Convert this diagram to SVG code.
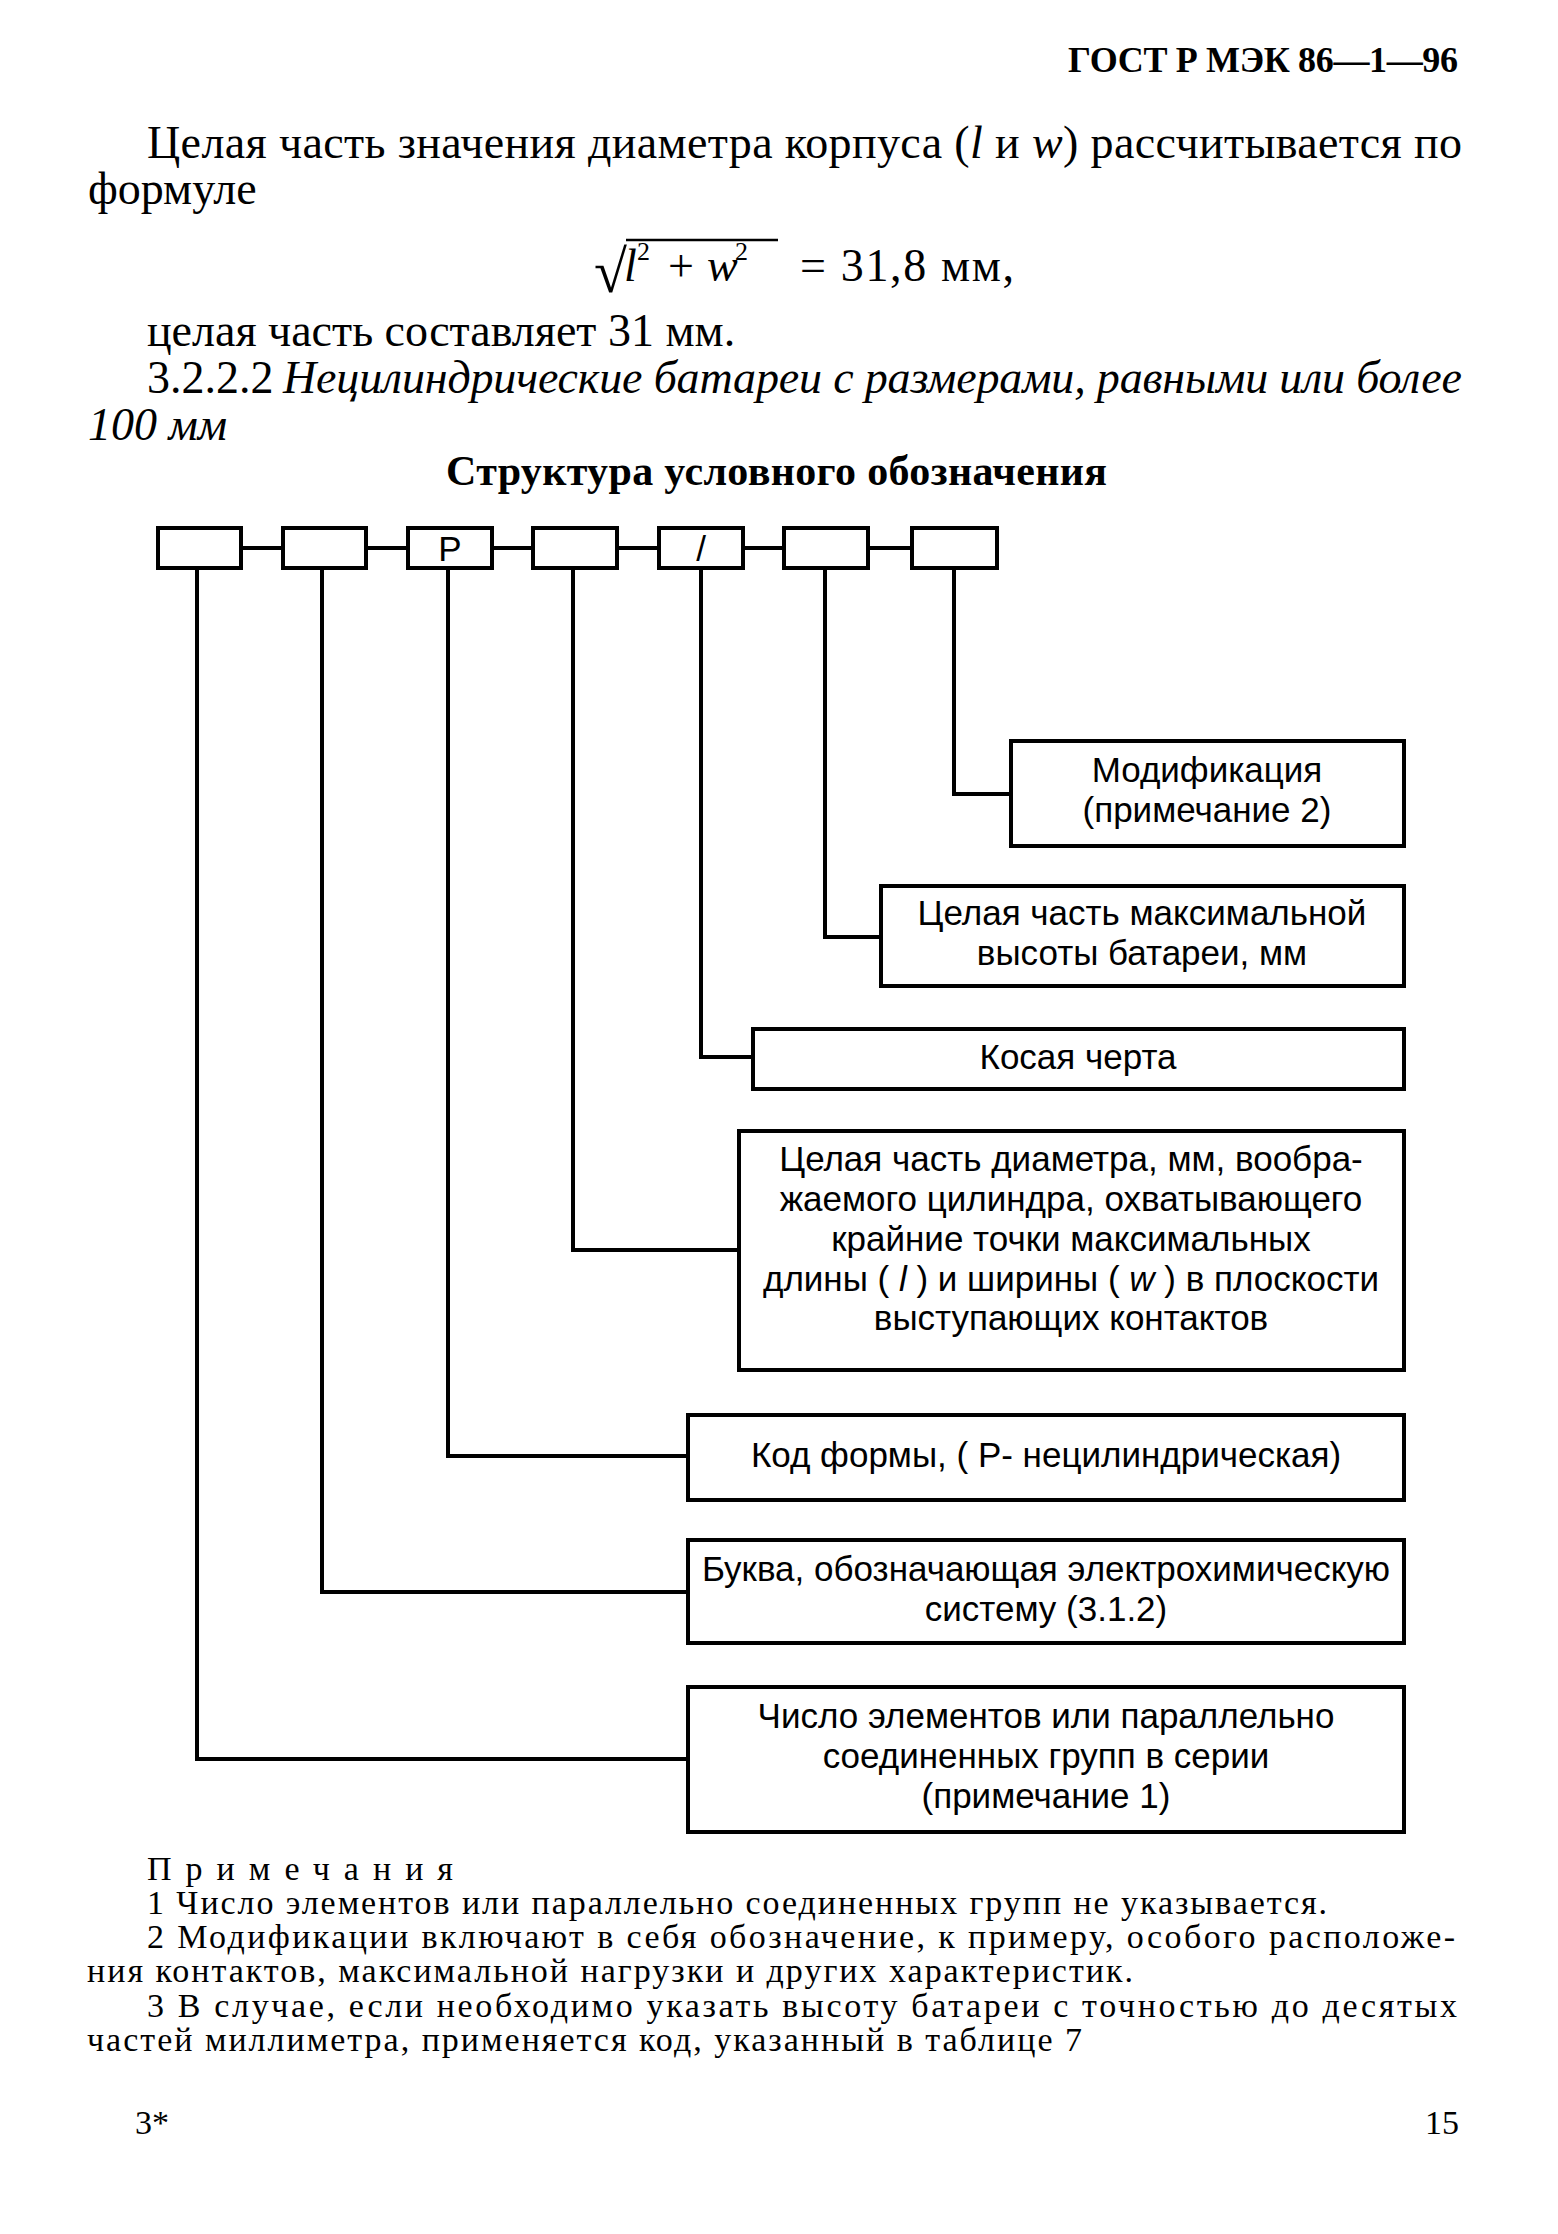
<svg xmlns="http://www.w3.org/2000/svg" width="1558" height="2234" viewBox="0 0 1558 2234">
<style>
.serif{font-family:"Liberation Serif","Times New Roman",serif;fill:#000}
.body{font-size:46px}
.note{font-size:34px}
.sans{font-family:"Liberation Sans",Arial,sans-serif;font-size:35px;fill:#000;text-anchor:middle}
.box{fill:#fff;stroke:#000;stroke-width:4}
.conn{fill:none;stroke:#000;stroke-width:4}
.it{font-style:italic}
</style>
<rect width="1558" height="2234" fill="#fff"/>
<g id="page-text">
<text class="serif" x="1068" y="72" font-size="36" font-weight="bold" textLength="390">ГОСТ Р МЭК 86—1—96</text>
<text class="serif body" x="147" y="158" textLength="1315">Целая часть значения диаметра корпуса (<tspan class="it">l</tspan> и <tspan class="it">w</tspan>) рассчитывается по</text>
<text class="serif body" x="88" y="204">формуле</text>
<g id="formula">
<text class="serif" x="594" y="292" font-size="60" font-family="DejaVu Serif">√</text>
<line x1="626" y1="240" x2="778" y2="240" stroke="#000" stroke-width="2.5"/>
<text class="serif body it" x="624" y="281">l</text>
<text class="serif" x="637" y="260" font-size="26">2</text>
<text class="serif body" x="668" y="281">+</text>
<text class="serif body it" x="707" y="281">w</text>
<text class="serif" x="735" y="260" font-size="26">2</text>
<text class="serif body" x="800" y="281" textLength="214">= 31,8 мм,</text>
</g>
<text class="serif body" x="147" y="346">целая часть составляет 31 мм.</text>
<text class="serif body" x="147" y="393">3.2.2.2</text>
<text class="serif body it" x="283" y="393" textLength="1179">Нецилиндрические батареи с размерами, равными или более</text>
<text class="serif body it" x="88" y="440" font-size="44">100 мм</text>
<text class="serif" x="446" y="485" font-size="42" font-weight="bold" textLength="661">Структура условного обозначения</text>
</g>
<g id="connectors">
<line class="conn" x1="240" y1="548" x2="912" y2="548"/>
<polyline class="conn" points="954,568 954,794 1011,794"/>
<polyline class="conn" points="825,568 825,937 881,937"/>
<polyline class="conn" points="701,568 701,1057 753,1057"/>
<polyline class="conn" points="573,568 573,1250 739,1250"/>
<polyline class="conn" points="448,568 448,1456 688,1456"/>
<polyline class="conn" points="322,568 322,1592 688,1592"/>
<polyline class="conn" points="197,568 197,1759 688,1759"/>
</g>
<g id="code-boxes">
<g id="c1"><rect class="box" x="158" y="528" width="83" height="40"/></g>
<g id="c2"><rect class="box" x="283" y="528" width="83" height="40"/></g>
<g id="c3"><rect class="box" x="408" y="528" width="84" height="40"/><text class="sans" x="450" y="561" font-size="31">P</text></g>
<g id="c4"><rect class="box" x="533" y="528" width="84" height="40"/></g>
<g id="c5"><rect class="box" x="659" y="528" width="84" height="40"/><text class="sans" x="701" y="561" font-size="32">/</text></g>
<g id="c6"><rect class="box" x="784" y="528" width="84" height="40"/></g>
<g id="c7"><rect class="box" x="912" y="528" width="85" height="40"/></g>
</g>
<g id="n-mod"><rect class="box" x="1011" y="741" width="393" height="105"/>
<text class="sans" x="1207" y="782">Модификация</text>
<text class="sans" x="1207" y="822">(примечание 2)</text></g>
<g id="n-height"><rect class="box" x="881" y="886" width="523" height="100"/>
<text class="sans" x="1142" y="925">Целая часть максимальной</text>
<text class="sans" x="1142" y="965">высоты батареи, мм</text></g>
<g id="n-slash"><rect class="box" x="753" y="1029" width="651" height="60"/>
<text class="sans" x="1078" y="1069">Косая черта</text></g>
<g id="n-diam"><rect class="box" x="739" y="1131" width="665" height="239"/>
<text class="sans" x="1071" y="1171">Целая часть диаметра, мм, вообра-</text>
<text class="sans" x="1071" y="1211">жаемого цилиндра, охватывающего</text>
<text class="sans" x="1071" y="1251">крайние точки максимальных</text>
<text class="sans" x="1071" y="1291">длины ( <tspan class="it">l</tspan> ) и ширины ( <tspan class="it">w</tspan> ) в плоскости</text>
<text class="sans" x="1071" y="1330">выступающих контактов</text></g>
<g id="n-shape"><rect class="box" x="688" y="1415" width="716" height="85"/>
<text class="sans" x="1046" y="1467">Код формы, ( P- нецилиндрическая)</text></g>
<g id="n-letter"><rect class="box" x="688" y="1540" width="716" height="103"/>
<text class="sans" x="1046" y="1581">Буква, обозначающая электрохимическую</text>
<text class="sans" x="1046" y="1621">систему (3.1.2)</text></g>
<g id="n-count"><rect class="box" x="688" y="1687" width="716" height="145"/>
<text class="sans" x="1046" y="1728">Число элементов или параллельно</text>
<text class="sans" x="1046" y="1768">соединенных групп в серии</text>
<text class="sans" x="1046" y="1808">(примечание 1)</text></g>
<g id="notes">
<text class="serif note" x="147" y="1880" textLength="306">Примечания</text>
<text class="serif note" x="147" y="1914" textLength="1180">1 Число элементов или параллельно соединенных групп не указывается.</text>
<text class="serif note" x="147" y="1948" textLength="1308">2 Модификации включают в себя обозначение, к примеру, особого расположе-</text>
<text class="serif note" x="87" y="1982" textLength="1046">ния контактов, максимальной нагрузки и других характеристик.</text>
<text class="serif note" x="147" y="2017" textLength="1310">3 В случае, если необходимо указать высоту батареи с точностью до десятых</text>
<text class="serif note" x="87" y="2051" textLength="995">частей миллиметра, применяется код, указанный в таблице 7</text>
<text class="serif note" x="135" y="2134">3*</text>
<text class="serif note" x="1459" y="2134" text-anchor="end">15</text>
</g>
</svg>
